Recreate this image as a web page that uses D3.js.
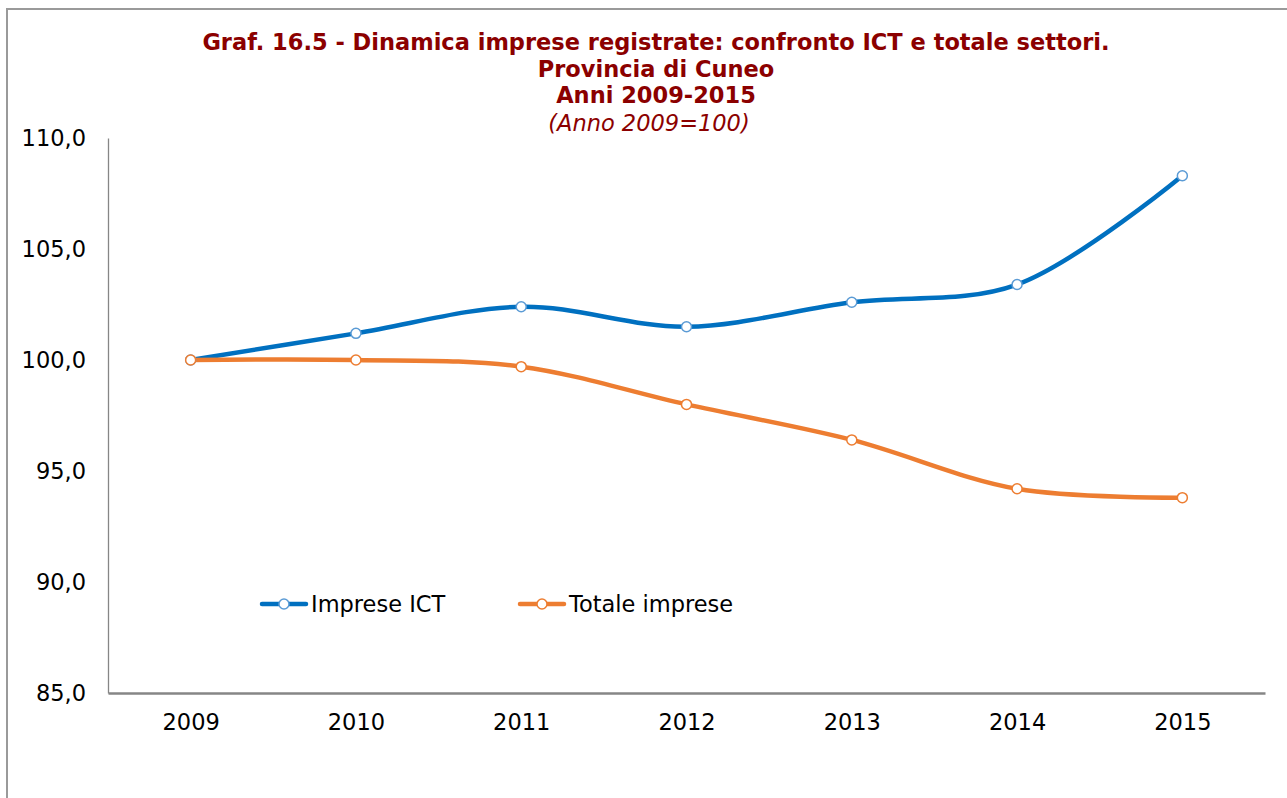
<!DOCTYPE html>
<html>
<head>
<meta charset="utf-8">
<script src="https://cdn.jsdelivr.net/npm/d3@7.9.0/dist/d3.min.js"></script>
<style>
  body { margin: 0; background: #fff; }
  svg { display: block; font-family: "DejaVu Sans", Verdana, sans-serif; }
</style>
</head>
<body>
<svg width="1287" height="798"></svg>
<script>
const years = ['2009', '2010', '2011', '2012', '2013', '2014', '2015'];
const ictValues = [100.0, 101.2, 102.4, 101.5, 102.6, 103.4, 108.3];
const totaleValues = [100.0, 100.0, 99.7, 98.0, 96.4, 94.2, 93.8];
const yTicks = [85, 90, 95, 100, 105, 110];
const titleLines = [
    'Graf. 16.5 - Dinamica imprese registrate: confronto ICT e totale settori.',
    'Provincia di Cuneo',
    'Anni 2009-2015'
];
const subtitle = '(Anno 2009=100)';

const series = [
    {name: 'Imprese ICT', values: ictValues, color: '#0070c0', marker: '#5b9bd5'},
    {name: 'Totale imprese', values: totaleValues, color: '#ed7d31', marker: '#ed7d31'}
];

const svg = d3.select('svg');

// outer frame (only top and left edges are visible)
svg.append('rect')
    .attr('x', 7).attr('y', 9)
    .attr('width', 1300).attr('height', 820)
    .attr('fill', 'none')
    .attr('stroke', '#9a9a9a')
    .attr('stroke-width', 2);

let x = d3.scalePoint().domain(years).range([108, 1265]).padding(0.5);
let y = d3.scaleLinear().domain([85, 110]).range([693, 138]);

// title
const title = svg.append('g').attr('fill', '#8b0000').attr('text-anchor', 'middle');
titleLines.forEach((t, i) => {
    title.append('text')
        .attr('x', 656).attr('y', 50 + i * 26.5)
        .attr('font-weight', 'bold')
        .attr('font-size', 22.5)
        .text(t);
});
title.append('text')
    .attr('x', 649).attr('y', 131)
    .attr('font-style', 'italic')
    .attr('font-size', 22.5)
    .text(subtitle);

// y axis
let yAxis = d3.axisLeft(y)
    .tickValues(yTicks)
    .tickSize(0)
    .tickPadding(22)
    .tickFormat((d) => d3.format('.1f')(d).replace('.', ','));
svg.append('g')
    .attr('transform', 'translate(108,0)')
    .call(yAxis)
    .call((g) => g.select('.domain').attr('stroke', '#868686').attr('stroke-width', 1.3))
    .call((g) => g.selectAll('text').attr('font-size', 22.5).attr('fill', '#000')
        .attr('font-family', '"DejaVu Sans", sans-serif'));

// x axis
let xAxis = d3.axisBottom(x).tickSize(0).tickPadding(21);
svg.append('g')
    .attr('transform', 'translate(0,693)')
    .call(xAxis)
    .call((g) => g.select('.domain').attr('stroke', '#868686').attr('stroke-width', 2.5))
    .call((g) => g.selectAll('text').attr('font-size', 22.5).attr('fill', '#000')
        .attr('font-family', '"DejaVu Sans", sans-serif'));

// lines
let line = d3.line()
    .x((d, i) => x(years[i]))
    .y((d) => y(d))
    .curve(d3.curveCatmullRom.alpha(0.5));

series.forEach((s) => {
    svg.append('path')
        .attr('d', line(s.values))
        .attr('fill', 'none')
        .attr('stroke', s.color)
        .attr('stroke-width', 4.5)
        .attr('stroke-linecap', 'round');
});

series.forEach((s) => {
    svg.append('g')
        .selectAll('circle')
        .data(s.values)
        .join('circle')
        .attr('cx', (d, i) => x(years[i]))
        .attr('cy', (d) => y(d))
        .attr('r', 5)
        .attr('fill', '#fff')
        .attr('stroke', s.marker)
        .attr('stroke-width', 1.5);
});

// legend
const legendX = [262, 520];
series.forEach((s, i) => {
    let lg = svg.append('g').attr('transform', `translate(${legendX[i]},604)`);
    lg.append('line')
        .attr('x1', 0).attr('x2', 44)
        .attr('stroke', s.color)
        .attr('stroke-width', 4.5)
        .attr('stroke-linecap', 'round');
    lg.append('circle')
        .attr('cx', 22).attr('r', 5)
        .attr('fill', '#fff')
        .attr('stroke', s.marker)
        .attr('stroke-width', 1.5);
    lg.append('text')
        .attr('x', 49).attr('y', 8)
        .attr('font-size', 22.5)
        .text(s.name);
});
</script>
</body>
</html>
